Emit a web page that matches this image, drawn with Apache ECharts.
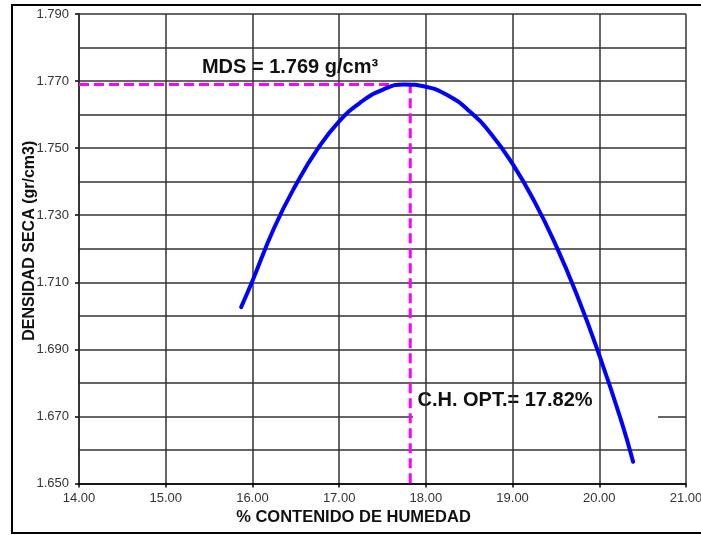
<!DOCTYPE html>
<html>
<head>
<meta charset="utf-8">
<script src="https://cdn.jsdelivr.net/npm/echarts@6/dist/echarts.min.js"></script>
<style>
  html, body { margin: 0; padding: 0; background: #fff; }
  #chart { width: 701px; height: 535px; }
</style>
</head>
<body>
<div id="chart"></div>
<script>
// Proctor compaction curve: dry density against moisture content
const moisture = [15.87, 16.00, 16.25, 16.50, 16.75, 17.00, 17.25, 17.50, 17.75, 18.00, 18.25,
                  18.50, 18.75, 19.00, 19.25, 19.50, 19.75, 20.00, 20.25, 20.39];
const dryDensity = [1.7026, 1.7104, 1.7262, 1.7390, 1.7497, 1.7580, 1.7637, 1.7674, 1.7690, 1.7683, 1.7658,
                    1.7611, 1.7543, 1.7453, 1.7342, 1.7210, 1.7057, 1.6883, 1.6690, 1.6565];

// Maximum dry density and optimum moisture content
const maxDryDensity = 1.769;
const optimumMoisture = 17.82;

// Axis ranges and tick steps
const xMin = 14, xMax = 21, xStep = 1;
const yMin = 1.65, yMax = 1.79, yStep = 0.02;

const curve = moisture.map((m, i) => [m, dryDensity[i]]);
const guide = [[xMin, maxDryDensity], [optimumMoisture, maxDryDensity], [optimumMoisture, yMin]];

const FONT = '"Liberation Sans", Arial, Helvetica, sans-serif';
const GRID_COLOR = '#333';

const chart = echarts.init(document.getElementById('chart'), null, { renderer: 'canvas' });

chart.setOption({
  animation: false,
  backgroundColor: '#fff',
  grid: { left: 79, right: 15, top: 14, bottom: 51.5, containLabel: false, outerBoundsMode: 'none' },
  xAxis: {
    type: 'value',
    min: xMin, max: xMax, interval: xStep,
    z: 2,
    name: '% CONTENIDO DE HUMEDAD',
    nameLocation: 'middle',
    nameGap: 25,
    nameTextStyle: { fontFamily: FONT, fontWeight: 'bold', fontSize: 16.5, color: '#111', padding: [0, 58, 0, 0] },
    axisLine: { onZero: false, lineStyle: { color: '#000', width: 1.5 } },
    axisTick: { show: true, length: 4, lineStyle: { color: '#000', width: 1.5 } },
    axisLabel: { fontFamily: FONT, fontSize: 13, color: '#333', margin: 8,
                 showMaxLabel: true, showMinLabel: true, formatter: v => v.toFixed(2) },
    splitLine: { show: true, lineStyle: { color: GRID_COLOR, width: 1.5 } }
  },
  yAxis: {
    type: 'value',
    min: yMin, max: yMax, interval: yStep,
    z: 0,
    name: 'DENSIDAD SECA (gr/cm3)',
    nameLocation: 'middle',
    nameGap: 41,
    nameRotate: 90,
    nameMoveOverlap: false,
    nameTextStyle: { fontFamily: FONT, fontWeight: 'bold', fontSize: 16, color: '#111', padding: [0, 0, 0, 16] },
    axisLine: { onZero: false, lineStyle: { color: '#000', width: 1.5 } },
    axisTick: { show: true, length: 4, lineStyle: { color: '#000', width: 1.5 } },
    axisLabel: { fontFamily: FONT, fontSize: 13, color: '#333', margin: 10,
                 showMaxLabel: true, showMinLabel: true, formatter: v => v.toFixed(3) },
    splitLine: { show: true, lineStyle: { color: GRID_COLOR, width: 1.5 } },
    minorTick: { show: false, splitNumber: 2 },
    minorSplitLine: { show: true, lineStyle: { color: GRID_COLOR, width: 1.5 } }
  },
  series: [
    {
      name: 'Curva de compactación',
      type: 'line',
      data: curve,
      smooth: 0.5,
      showSymbol: false,
      z: 4,
      lineStyle: { color: '#0000ff', width: 4, cap: 'round' }
    },
    {
      name: 'Óptimo',
      type: 'line',
      data: guide,
      showSymbol: false,
      z: 3,
      lineStyle: { color: '#ff00ff', width: 3, type: [10, 5] }
    }
  ],
  graphic: [
    {
      type: 'rect',
      z: 10,
      shape: { x: 12, y: 5, width: 720, height: 528 },
      style: { fill: 'none', stroke: '#000', lineWidth: 2 }
    },
    {
      type: 'text',
      z: 10,
      x: 290, y: 67,
      style: {
        text: 'MDS = ' + maxDryDensity.toFixed(3) + ' g/cm³',
        font: 'bold 20px ' + FONT,
        fill: '#111',
        align: 'center',
        verticalAlign: 'middle'
      }
    },
    {
      // white box behind the optimum label: hides the horizontal grid line only
      type: 'rect',
      z: 1,
      shape: { x: 413, y: 387, width: 245, height: 35 },
      style: { fill: '#fff' }
    },
    {
      type: 'text',
      z: 1,
      x: 505, y: 400,
      style: {
        text: 'C.H. OPT.= ' + optimumMoisture.toFixed(2) + '%',
        font: 'bold 20px ' + FONT,
        fill: '#111',
        align: 'center',
        verticalAlign: 'middle'
      }
    }
  ]
});
</script>
</body>
</html>
